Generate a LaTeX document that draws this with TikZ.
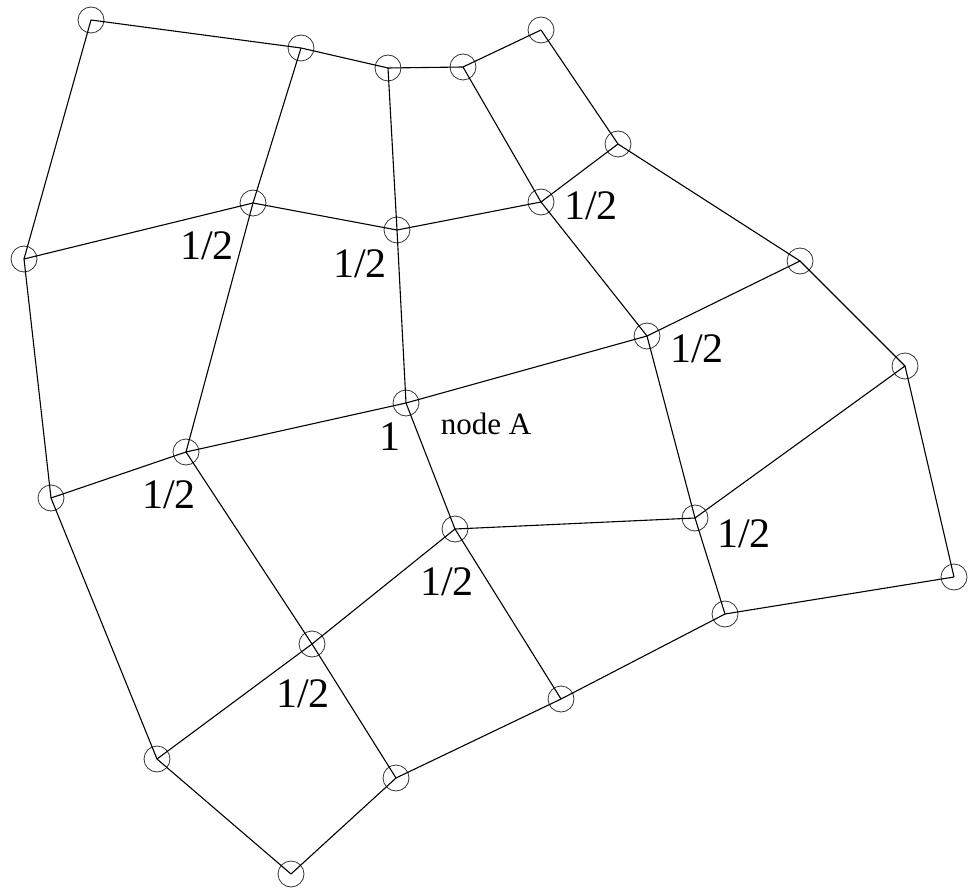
\documentclass[tikz,border=0pt]{standalone}
\usepackage{fontspec}
\setmainfont{Liberation Serif}
\usetikzlibrary{positioning}
\tikzset{
    meshpt/.style={circle, draw=black!80, line width=0.8pt,
                   minimum size=26pt, inner sep=0pt},
    meshline/.style={line width=1.1pt, draw=black},
    wlbl/.style={font=\fontsize{42}{48}\selectfont, inner sep=0pt},
    namelbl/.style={font=\fontsize{31}{36}\selectfont, inner sep=0pt},
}

\begin{document}
\begin{tikzpicture}[x=1pt, y=-1pt]
    \useasboundingbox (0,0) rectangle (968,890);
    % mesh points, row by row
    \node[meshpt] (a1) at (91,20) {};
    \node[meshpt] (a2) at (301,48) {};
    \node[meshpt] (a3) at (388,68) {};
    \node[meshpt] (a4) at (463,67) {};
    \node[meshpt] (a5) at (541,30) {};
    \node[meshpt] (b1) at (24,259) {};
    \node[meshpt] (b2) at (253,203) {};
    \node[meshpt] (b3) at (397,230) {};
    \node[meshpt] (b4) at (541,202) {};
    \node[meshpt] (b5) at (618,144) {};
    \node[meshpt] (c1) at (51,498) {};
    \node[meshpt] (c2) at (186,452) {};
    \node[meshpt] (c3) at (406,403) {};
    \node[meshpt] (c4) at (647,336) {};
    \node[meshpt] (c5) at (800,261) {};
    \node[meshpt] (d1) at (157,759) {};
    \node[meshpt] (d2) at (312,644) {};
    \node[meshpt] (d3) at (455,529) {};
    \node[meshpt] (d4) at (695,518) {};
    \node[meshpt] (d5) at (905,366) {};
    \node[meshpt] (e1) at (291,874) {};
    \node[meshpt] (e2) at (396,778) {};
    \node[meshpt] (e3) at (561,699) {};
    \node[meshpt] (e4) at (725,614) {};
    \node[meshpt] (e5) at (954,577) {};
    % rows
    \draw[meshline] (a1.center) -- (a2.center) -- (a3.center)
        -- (a4.center) -- (a5.center);
    \draw[meshline] (b1.center) -- (b2.center) -- (b3.center)
        -- (b4.center) -- (b5.center);
    \draw[meshline] (c1.center) -- (c2.center) -- (c3.center)
        -- (c4.center) -- (c5.center);
    \draw[meshline] (d1.center) -- (d2.center) -- (d3.center)
        -- (d4.center) -- (d5.center);
    \draw[meshline] (e1.center) -- (e2.center) -- (e3.center)
        -- (e4.center) -- (e5.center);
    % columns
    \draw[meshline] (a1.center) -- (b1.center) -- (c1.center)
        -- (d1.center) -- (e1.center);
    \draw[meshline] (a2.center) -- (b2.center) -- (c2.center)
        -- (d2.center) -- (e2.center);
    \draw[meshline] (a3.center) -- (b3.center) -- (c3.center)
        -- (d3.center) -- (e3.center);
    \draw[meshline] (a4.center) -- (b4.center) -- (c4.center)
        -- (d4.center) -- (e4.center);
    \draw[meshline] (a5.center) -- (b5.center) -- (c5.center)
        -- (d5.center) -- (e5.center);
    % weights
    \node[wlbl] (wb2) at (207,246) {1/2};
    \node[wlbl] (wb3) at (360,264) {1/2};
    \node[wlbl] (wb4) at (591,206) {1/2};
    \node[wlbl] (wc2) at (169,495) {1/2};
    \node[wlbl] (wc3) at (390,437) {1};
    \node[wlbl] (wc4) at (697,349) {1/2};
    \node[wlbl] (wd2) at (303,694) {1/2};
    \node[wlbl] (wd3) at (447,582) {1/2};
    \node[wlbl] (wd4) at (744,534) {1/2};
    \node[namelbl] (nameA) at (486,424) {node A};
\end{tikzpicture}
\end{document}
